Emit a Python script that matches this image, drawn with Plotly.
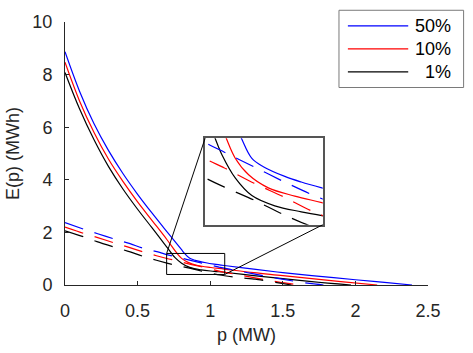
import plotly.graph_objects as go

# ---------------- data ----------------
series_names = ["50%", "10%", "1%"]
series_colors = ["#0000ff", "#ff0000", "#000000"]

# solid curves
p_solid_50 = [0, 0.1, 0.2, 0.3, 0.4, 0.5, 0.6, 0.7, 0.8, 0.825, 0.859, 0.898, 0.971, 1.027, 1.097, 1.3, 1.5, 1.7, 2.0, 2.2, 2.39]
E_solid_50 = [8.87, 7.37, 6.13, 5.11, 4.23, 3.45, 2.73, 2.04, 1.36, 1.19, 1.013, 0.937, 0.847, 0.795, 0.741, 0.6, 0.47, 0.36, 0.2, 0.1, 0]

p_solid_10 = [0, 0.1, 0.2, 0.3, 0.4, 0.5, 0.6, 0.7, 0.772, 0.803, 0.848, 0.915, 1.005, 1.097, 1.3, 1.5, 1.7, 1.9, 2.15]
E_solid_10 = [8.47, 7.0, 5.8, 4.78, 3.93, 3.16, 2.45, 1.74, 1.2, 1.013, 0.862, 0.741, 0.665, 0.605, 0.47, 0.36, 0.24, 0.13, 0]

p_solid_1 = [0, 0.1, 0.2, 0.3, 0.4, 0.5, 0.6, 0.7, 0.734, 0.758, 0.803, 0.859, 0.937, 1.027, 1.097, 1.3, 1.5, 1.7, 1.97]
E_solid_1 = [8.08, 6.7, 5.52, 4.5, 3.64, 2.88, 2.17, 1.45, 1.2, 1.043, 0.831, 0.67, 0.575, 0.52, 0.484, 0.36, 0.245, 0.13, 0]

# dashed curves
p_dash_50 = [0, 0.13, 0.22, 0.345, 0.436, 0.561, 0.652, 0.702, 0.764, 0.865, 0.966, 1.061, 1.2, 1.38, 1.55, 1.7, 1.78]
E_dash_50 = [2.37, 2.12, 1.96, 1.74, 1.59, 1.36, 1.24, 1.157, 1.073, 0.937, 0.801, 0.681, 0.53, 0.34, 0.17, 0.05, 0]

p_dash_10 = [0, 0.13, 0.22, 0.345, 0.436, 0.561, 0.702, 0.764, 0.865, 0.966, 1.061, 1.2, 1.38, 1.55, 1.64]
E_dash_10 = [2.2, 1.96, 1.81, 1.59, 1.44, 1.22, 1.007, 0.928, 0.786, 0.66, 0.529, 0.38, 0.2, 0.05, 0]

p_dash_1 = [0, 0.13, 0.22, 0.345, 0.436, 0.561, 0.702, 0.764, 0.865, 0.966, 1.066, 1.2, 1.31, 1.45, 1.56]
E_dash_1 = [2.06, 1.83, 1.65, 1.43, 1.28, 1.05, 0.831, 0.75, 0.63, 0.495, 0.38, 0.28, 0.22, 0.1, 0]

x_ticks = [0, 0.5, 1, 1.5, 2, 2.5]
x_tick_labels = ["0", "0.5", "1", "1.5", "2", "2.5"]
y_ticks = [0, 2, 4, 6, 8, 10]
y_tick_labels = ["0", "2", "4", "6", "8", "10"]

zoom_x = [0.7, 1.1]
zoom_y = [0.4, 1.2]

# ---------------- figure ----------------
FONT = "Liberation Sans, Arial, Helvetica, sans-serif"
AX = "#262626"
W, H = 473, 353
ML, MR, MT, MB = 61, 45, 17, 67
PW, PH = W - ML - MR, H - MT - MB

main_x_range = [0, 2.5]
main_y_range = [0, 10]
inset_dom_x = [0.386, 0.710]
inset_dom_y = [0.229, 0.558]

solids = [(p_solid_50, E_solid_50), (p_solid_10, E_solid_10), (p_solid_1, E_solid_1)]
dashes = [(p_dash_50, E_dash_50), (p_dash_10, E_dash_10), (p_dash_1, E_dash_1)]

fig = go.Figure()
LW = 1.2
DASH = "19px,12px"
SM = 1.0
for (px, ey), col, lab in zip(solids, series_colors, series_names):
    fig.add_trace(go.Scatter(x=px, y=ey, mode="lines", name=lab, showlegend=False,
                             line=dict(color=col, width=LW, shape="spline", smoothing=SM),
                             xaxis="x", yaxis="y"))
for (px, ey), col, lab in zip(dashes, series_colors, series_names):
    fig.add_trace(go.Scatter(x=px, y=ey, mode="lines", name=lab, showlegend=False,
                             line=dict(color=col, width=LW, dash=DASH, shape="spline", smoothing=0.6),
                             xaxis="x", yaxis="y"))
# inset copies
for (px, ey), col, lab in zip(solids, series_colors, series_names):
    fig.add_trace(go.Scatter(x=px, y=ey, mode="lines", name=lab, showlegend=False,
                             line=dict(color=col, width=LW, shape="spline", smoothing=SM),
                             xaxis="x2", yaxis="y2"))
for (px, ey), col, lab in zip(dashes, series_colors, series_names):
    fig.add_trace(go.Scatter(x=px, y=ey, mode="lines", name=lab, showlegend=False,
                             line=dict(color=col, width=LW, dash=DASH, shape="spline", smoothing=0.6),
                             xaxis="x2", yaxis="y2"))

def to_data(frac, rng):
    return rng[0] + frac * (rng[1] - rng[0])

def pxx(v):  # figure pixel -> paper x
    return (v - ML) / PW

def pxy(v):  # figure pixel -> paper y
    return (H - MB - v) / PH

shapes = [
    dict(type="rect", xref="x", yref="y", x0=zoom_x[0], x1=zoom_x[1], y0=zoom_y[0], y1=zoom_y[1],
         line=dict(color="#000000", width=1), layer="above"),
    dict(type="line", xref="x", yref="y", x0=zoom_x[0], y0=zoom_y[1],
         x1=to_data(inset_dom_x[0], main_x_range), y1=to_data(inset_dom_y[1], main_y_range),
         line=dict(color="#000000", width=1), layer="above"),
    dict(type="line", xref="x", yref="y", x0=zoom_x[1], y0=zoom_y[0],
         x1=to_data(inset_dom_x[1], main_x_range), y1=to_data(inset_dom_y[0], main_y_range),
         line=dict(color="#000000", width=1), layer="above"),
]

# legend box (drawn as in the reference: long line samples, right-aligned labels)
LEG_BOX = (338, 5, 464, 84)
LEG_LINE_X = (347, 408)
LEG_ROW_Y = [21, 44.5, 68]
LEG_TEXT_RIGHT = 453
annotations = []
shapes.append(dict(type="rect", xref="paper", yref="paper",
                   x0=pxx(LEG_BOX[0]), x1=pxx(LEG_BOX[2]), y0=pxy(LEG_BOX[3]), y1=pxy(LEG_BOX[1]),
                   line=dict(color="#7a7a7a", width=1), fillcolor="white", layer="above"))
for name, col, ry in zip(series_names, series_colors, LEG_ROW_Y):
    shapes.append(dict(type="line", xref="paper", yref="paper",
                       x0=pxx(LEG_LINE_X[0]), x1=pxx(LEG_LINE_X[1]), y0=pxy(ry), y1=pxy(ry),
                       line=dict(color=col, width=LW), layer="above"))
    annotations.append(dict(xref="paper", yref="paper", x=pxx(LEG_TEXT_RIGHT), y=pxy(ry),
                            xanchor="right", yanchor="middle", showarrow=False, text=name,
                            font=dict(family=FONT, size=18, color="#000000")))

fig.update_layout(
    width=W, height=H, autosize=False,
    margin=dict(l=ML, r=MR, t=MT, b=MB, pad=0),
    paper_bgcolor="white", plot_bgcolor="white",
    font=dict(family=FONT, size=18, color=AX),
    showlegend=False,
    xaxis=dict(domain=[0, 1], range=main_x_range, tickvals=x_ticks, ticktext=x_tick_labels,
               ticks="inside", ticklen=4, tickcolor=AX, tickwidth=1,
               showline=True, linecolor=AX, linewidth=1, showgrid=False, zeroline=False,
               ticklabelstandoff=9,
               title=dict(text="p (MW)", font=dict(size=18, color=AX), standoff=8),
               anchor="y"),
    yaxis=dict(domain=[0, 1], range=main_y_range, tickvals=y_ticks, ticktext=y_tick_labels,
               ticks="inside", ticklen=4, tickcolor=AX, tickwidth=1,
               showline=True, linecolor=AX, linewidth=1, showgrid=False, zeroline=False,
               ticklabelstandoff=8,
               title=dict(text="E(p) (MWh)", font=dict(size=18, color=AX), standoff=8),
               anchor="x"),
    xaxis2=dict(domain=inset_dom_x, range=zoom_x, anchor="y2", showticklabels=False, ticks="",
                showline=True, mirror=True, linecolor="#555555", linewidth=1.5,
                showgrid=False, zeroline=False),
    yaxis2=dict(domain=inset_dom_y, range=zoom_y, anchor="x2", showticklabels=False, ticks="",
                showline=True, mirror=True, linecolor="#555555", linewidth=1.5,
                showgrid=False, zeroline=False),
    shapes=shapes,
    annotations=annotations,
)

fig.write_html("out.html")
